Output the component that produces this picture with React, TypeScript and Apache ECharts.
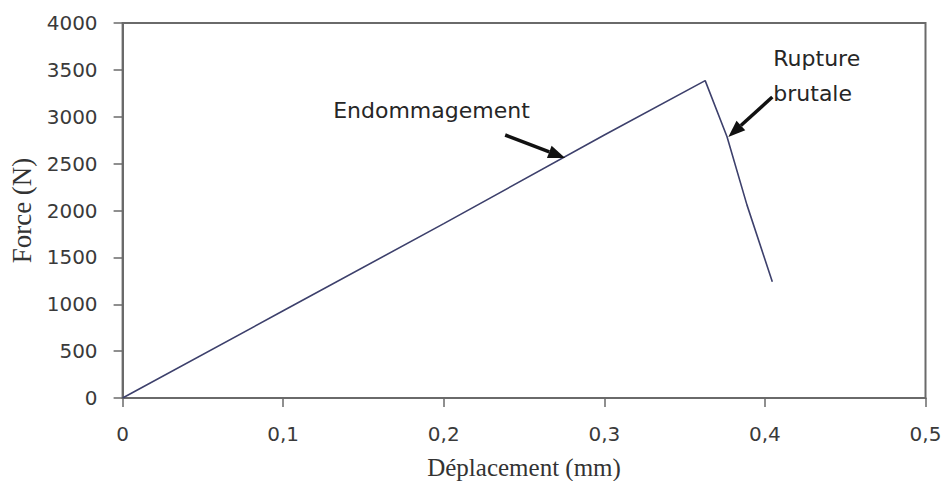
import React, { useEffect, useRef } from "react";
import * as echarts from "echarts";

// Force–displacement curve: linear rise, then sudden failure
const displacement = [0, 0.1, 0.2, 0.3, 0.3628, 0.3764, 0.3888, 0.4046];
const force = [0, 930, 1860, 2805, 3385, 2787, 2060, 1240];

const xTicks = [0, 0.1, 0.2, 0.3, 0.4, 0.5];
const yTicks = [0, 500, 1000, 1500, 2000, 2500, 3000, 3500, 4000];

// Annotation anchors (points on the curve the arrows point to)
const damageLabel = "Endommagement";
const damageAnchor: [number, number] = [0.2756, 2560];
const ruptureLines = ["Rupture", "brutale"];
const ruptureAnchor: [number, number] = [0.3772, 2784];

const LINE = "#3d406c";
const AXIS = "#6a6a6a";
const TEXT = "#3a3a3a";

function arrow(
  tip: number[],
  dx: number,
  dy: number,
  headLen: number,
  headHalf: number
) {
  // dx, dy: vector from tail to tip
  const len = Math.hypot(dx, dy);
  const ux = dx / len;
  const uy = dy / len;
  const tail = [tip[0] - dx, tip[1] - dy];
  const base = [tip[0] - ux * headLen, tip[1] - uy * headLen];
  const px = -uy;
  const py = ux;
  return [
    {
      type: "line",
      shape: { x1: tail[0], y1: tail[1], x2: base[0], y2: base[1] },
      style: { stroke: "#111", lineWidth: 3.5 },
      z: 10,
    },
    {
      type: "polygon",
      shape: {
        points: [
          [tip[0], tip[1]],
          [base[0] + px * headHalf, base[1] + py * headHalf],
          [base[0] - px * headHalf, base[1] - py * headHalf],
        ],
      },
      style: { fill: "#111" },
      z: 10,
    },
  ];
}

export default function App() {
  const ref = useRef<HTMLDivElement>(null);

  useEffect(() => {
    if (!ref.current) return;
    const chart = echarts.init(ref.current, undefined, { renderer: "svg" });
    const fmt = (v: number) => String(v).replace(".", ",");

    chart.setOption({
      animation: false,
      backgroundColor: "#ffffff",
      grid: {
        left: 122.6,
        right: 19.5,
        top: 23,
        bottom: 83,
        containLabel: false,
        outerBoundsMode: "none",
        show: true,
        borderColor: AXIS,
        borderWidth: 2,
      },
      xAxis: {
        type: "value",
        min: xTicks[0],
        max: xTicks[xTicks.length - 1],
        interval: 0.1,
        name: "Déplacement (mm)",
        nameLocation: "middle",
        nameGap: 57,
        nameTextStyle: {
          fontFamily: "Liberation Serif",
          fontSize: 25,
          color: "#333",
        },
        axisLine: { show: true, lineStyle: { color: AXIS, width: 2 } },
        axisTick: { show: true, length: 9, lineStyle: { color: AXIS, width: 1.5 } },
        axisLabel: {
          margin: 26,
          fontFamily: "DejaVu Sans",
          fontSize: 20,
          color: TEXT,
          formatter: (v: number) => fmt(v),
        },
        splitLine: { show: false },
      },
      yAxis: {
        type: "value",
        min: yTicks[0],
        max: yTicks[yTicks.length - 1],
        interval: 500,
        name: "Force (N)",
        nameLocation: "middle",
        nameGap: 86,
        nameRotate: 90,
        nameTextStyle: {
          fontFamily: "Liberation Serif",
          fontSize: 27,
          color: "#333",
        },
        axisLine: { show: true, lineStyle: { color: AXIS, width: 2 } },
        axisTick: { show: true, length: 9, lineStyle: { color: AXIS, width: 1.5 } },
        axisLabel: {
          margin: 25,
          fontFamily: "DejaVu Sans",
          fontSize: 20,
          color: TEXT,
          formatter: (v: number) => String(v),
        },
        splitLine: { show: false },
      },
      series: [
        {
          type: "line",
          data: displacement.map((d, i) => [d, force[i]]),
          showSymbol: false,
          symbol: "none",
          lineStyle: { color: LINE, width: 1.6 },
        },
      ],
    });

    const dTip = chart.convertToPixel({ gridIndex: 0 }, damageAnchor) as number[];
    const rTip = chart.convertToPixel({ gridIndex: 0 }, ruptureAnchor) as number[];

    chart.setOption({
      graphic: [
        ...arrow(dTip, 60, 23, 17, 6.5),
        ...arrow(rTip, -44, 40, 17, 6.5),
        {
          type: "text",
          x: dTip[0] - 232,
          y: dTip[1] - 48,
          style: {
            text: damageLabel,
            fontFamily: "DejaVu Sans",
            fontSize: 22,
            fill: "#262626",
            textVerticalAlign: "middle",
          },
          z: 10,
        },
        {
          type: "text",
          x: rTip[0] + 45,
          y: rTip[1] - 79,
          style: {
            text: ruptureLines[0],
            fontFamily: "DejaVu Sans",
            fontSize: 22,
            fill: "#262626",
            textVerticalAlign: "middle",
          },
          z: 10,
        },
        {
          type: "text",
          x: rTip[0] + 45,
          y: rTip[1] - 44,
          style: {
            text: ruptureLines[1],
            fontFamily: "DejaVu Sans",
            fontSize: 22,
            fill: "#262626",
            textVerticalAlign: "middle",
          },
          z: 10,
        },
      ],
    });

    return () => chart.dispose();
  }, []);

  return (
    <div
      ref={ref}
      style={{ position: "absolute", left: 0, top: 0, width: 945, height: 481 }}
    />
  );
}
